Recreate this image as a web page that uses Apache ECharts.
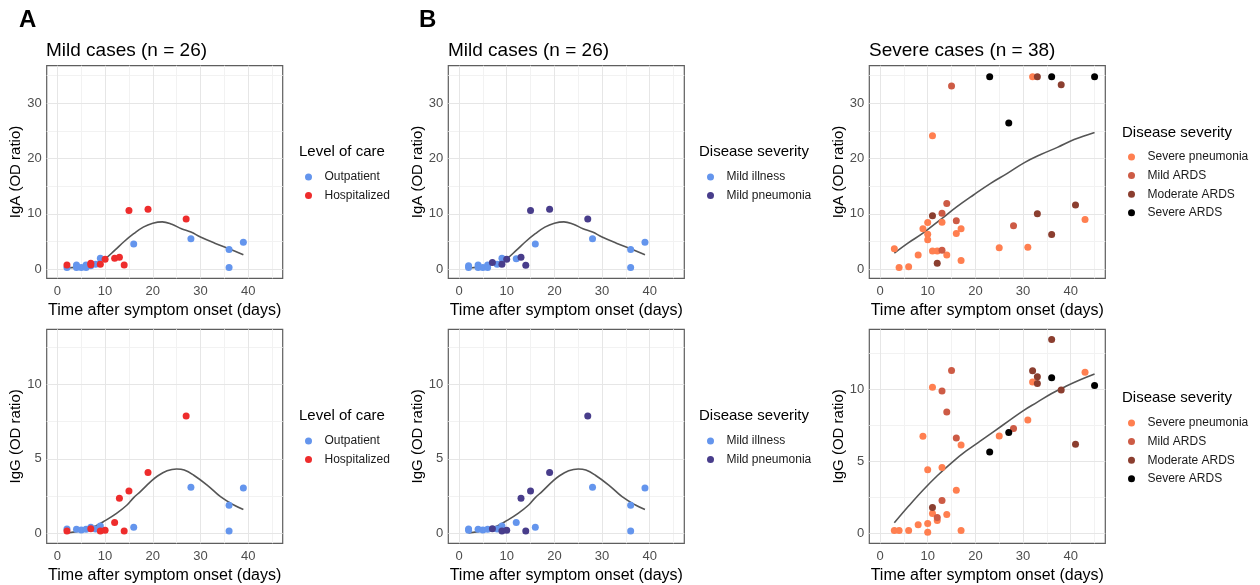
<!DOCTYPE html>
<html><head><meta charset="utf-8">
<script src="https://cdn.jsdelivr.net/npm/echarts@6/dist/echarts.min.js"></script>
<style>html,body{margin:0;padding:0;background:#fff}#c{width:1260px;height:585px}</style>
</head><body><div id="c"></div>
<script>
// ---------- tick values ----------
const X_TICKS = [0, 10, 20, 30, 40];
const X_MINOR = [5, 15, 25, 35, 45];
const IGA_TICKS = [0, 10, 20, 30];
const IGA_MINOR = [5, 15, 25, 35];
const IGG_TICKS = [0, 5, 10];
const IGG_MINOR = [2.5, 7.5, 12.5];

// ---------- Panel A (level of care), mild cases ----------
const A_IgA_Outpatient = [[2,0.29],[4,0.77],[4,0.29],[5,0.29],[6,0.77],[6,0.29],[7,0.6],[8,0.9],[9,1.98],[16,4.56],[28,5.5],[36,3.54],[36,0.3],[39,4.86]];
const A_IgA_Hospitalized = [[2,0.77],[7,1.08],[7,0.8],[9,0.9],[10,1.8],[12,1.98],[13,2.16],[14,0.77],[15,10.6],[19,10.8],[27,9.06]];
const A_IgG_Outpatient = [[2,0.29],[4,0.27],[5,0.22],[6,0.27],[7,0.4],[8,0.29],[9,0.49],[16,0.4],[28,3.1],[36,1.88],[36,0.16],[39,3.04]];
const A_IgG_Hospitalized = [[2,0.15],[7,0.31],[9,0.16],[10,0.2],[12,0.72],[13,2.35],[14,0.16],[15,2.84],[19,4.09],[27,7.87]];

// ---------- Panel B, mild cases ----------
const B_IgA_MildIllness = [[2,0.3],[2,0.6],[4,0.77],[4,0.29],[5,0.29],[6,0.77],[6,0.29],[8,0.9],[9,1.98],[12,1.9],[16,4.56],[28,5.5],[36,3.54],[36,0.3],[39,4.86]];
const B_IgA_MildPneumonia = [[7,1.2],[9,0.9],[10,1.8],[13,2.16],[14,0.72],[15,10.6],[19,10.8],[27,9.06]];
const B_IgG_MildIllness = [[2,0.29],[2,0.2],[4,0.27],[5,0.22],[6,0.27],[8,0.29],[9,0.49],[12,0.72],[16,0.4],[28,3.1],[36,1.88],[36,0.16],[39,3.04]];
const B_IgG_MildPneumonia = [[7,0.31],[9,0.16],[10,0.2],[13,2.35],[14,0.16],[15,2.84],[19,4.09],[27,7.87]];

// ---------- Panel B, severe cases ----------
const S_IgA_SeverePneumonia = [[3,3.7],[4,0.29],[6,0.42],[8,2.58],[9,7.28],[10,8.43],[10,6.32],[10,5.3],[11,24.1],[11,3.3],[12,3.3],[13,8.49],[14,2.58],[16,6.44],[17,7.28],[17,1.55],[25,3.85],[31,3.98],[32,34.76],[43,8.98]];
const S_IgA_MildARDS = [[13,10.1],[13,3.43],[14,11.86],[15,33.07],[16,8.73],[28,7.83]];
const S_IgA_ModerateARDS = [[11,9.63],[12,1.08],[33,34.76],[33,10.0],[36,6.27],[38,33.3],[41,11.57]];
const S_IgA_SevereARDS = [[23,34.76],[27,26.4],[36,34.76],[45,34.76]];
const S_IgG_SeverePneumonia = [[3,0.21],[4,0.21],[6,0.21],[8,0.6],[9,6.74],[10,4.42],[10,0.69],[10,0.09],[11,10.14],[11,1.39],[12,0.9],[13,4.58],[14,1.32],[16,3.0],[17,6.13],[17,0.21],[25,6.76],[31,7.87],[32,10.5],[43,11.18]];
const S_IgG_MildARDS = [[12,1.11],[13,2.29],[13,9.88],[14,8.42],[15,11.3],[16,6.62],[28,7.27]];
const S_IgG_ModerateARDS = [[11,1.8],[32,11.27],[33,10.86],[33,10.4],[36,13.45],[38,9.95],[41,6.18]];
const S_IgG_SevereARDS = [[23,5.65],[27,6.99],[36,10.79],[45,10.25]];

// ---------- smoothed fits ----------
const MILD_IgA_FIT = [[2,0.2],[5,0.5],[8,1.1],[10,1.9],[12,3.4],[14,5.0],[16,6.4],[18,7.6],[20,8.3],[22,8.55],[24,8.1],[26,7.3],[28,6.7],[30,5.8],[33,4.7],[36,3.7],[39,2.6]];
const MILD_IgG_FIT = [[2,0.02],[5,0.18],[8,0.5],[10,0.85],[12.4,1.34],[14.6,1.9],[16,2.4],[17.4,2.8],[19.5,3.45],[21,3.85],[23,4.2],[25,4.32],[26.6,4.25],[28.6,3.9],[31.4,3.24],[34.2,2.46],[37,1.9],[39,1.6]];
const SEVERE_IgA_FIT = [[3,2.9],[6,4.8],[9,6.5],[12.6,8.9],[16,11.2],[19.6,13.4],[23.2,15.5],[26.7,17.3],[30.2,19.2],[33.7,20.7],[37.2,22.0],[40.7,23.4],[45,24.7]];
const SEVERE_IgG_FIT = [[3,0.74],[6,1.9],[9,3.0],[12,4.0],[15,4.9],[18,5.7],[21,6.4],[24,7.1],[27,7.8],[30,8.5],[33,9.1],[36,9.7],[39,10.2],[42,10.65],[45,11.05]];

// ---------- styling ----------
const FONT = "'Liberation Sans', Arial, sans-serif";
const C = {
  Outpatient: '#6495ED', Hospitalized: '#EE2C2C',
  'Mild illness': '#6495ED', 'Mild pneumonia': '#483D8B',
  'Severe pneumonia': '#FF7F50', 'Mild ARDS': '#CD5B45', 'Moderate ARDS': '#8B3E2F', 'Severe ARDS': '#000000'
};
const COL_LEFT = [46.7, 448.3, 869.3];
const ROW = [{top: 65.7, height: 212.6}, {top: 329.3, height: 214}];
const PANEL_W = 236;

const panels = [
  {col:0,row:0,yName:'IgA (OD ratio)',yr:[-1.65,36.75],yt:IGA_TICKS,ym:IGA_MINOR,fit:MILD_IgA_FIT,
   groups:[['Outpatient',A_IgA_Outpatient],['Hospitalized',A_IgA_Hospitalized]]},
  {col:0,row:1,yName:'IgG (OD ratio)',yr:[-0.67,13.7],yt:IGG_TICKS,ym:IGG_MINOR,fit:MILD_IgG_FIT,
   groups:[['Outpatient',A_IgG_Outpatient],['Hospitalized',A_IgG_Hospitalized]]},
  {col:1,row:0,yName:'IgA (OD ratio)',yr:[-1.65,36.75],yt:IGA_TICKS,ym:IGA_MINOR,fit:MILD_IgA_FIT,
   groups:[['Mild illness',B_IgA_MildIllness],['Mild pneumonia',B_IgA_MildPneumonia]]},
  {col:1,row:1,yName:'IgG (OD ratio)',yr:[-0.67,13.7],yt:IGG_TICKS,ym:IGG_MINOR,fit:MILD_IgG_FIT,
   groups:[['Mild illness',B_IgG_MildIllness],['Mild pneumonia',B_IgG_MildPneumonia]]},
  {col:2,row:0,yName:'IgA (OD ratio)',yr:[-1.65,36.75],yt:IGA_TICKS,ym:IGA_MINOR,fit:SEVERE_IgA_FIT,
   groups:[['Severe pneumonia',S_IgA_SeverePneumonia],['Mild ARDS',S_IgA_MildARDS],['Moderate ARDS',S_IgA_ModerateARDS],['Severe ARDS',S_IgA_SevereARDS]]},
  {col:2,row:1,yName:'IgG (OD ratio)',yr:[-0.68,14.15],yt:IGG_TICKS,ym:IGG_MINOR,fit:SEVERE_IgG_FIT,
   groups:[['Severe pneumonia',S_IgG_SeverePneumonia],['Mild ARDS',S_IgG_MildARDS],['Moderate ARDS',S_IgG_ModerateARDS],['Severe ARDS',S_IgG_SevereARDS]]}
];

const grid = [], xAxis = [], yAxis = [], series = [];
panels.forEach((p, i) => {
  grid.push({left: COL_LEFT[p.col], top: ROW[p.row].top, width: PANEL_W, height: ROW[p.row].height,
    show: true, borderColor: '#5e5e5e', borderWidth: 1.2, backgroundColor: '#fff', containLabel: false});
  xAxis.push({type: 'value', gridIndex: i, min: -2.25, max: 47.25,
    name: 'Time after symptom onset (days)', nameLocation: 'middle', nameGap: 24,
    nameTextStyle: {fontFamily: FONT, fontSize: 16, color: '#000'},
    axisLine: {show: false}, splitLine: {show: false},
    axisTick: {show: true, length: 3, customValues: X_TICKS, lineStyle: {color: '#444'}},
    axisLabel: {customValues: X_TICKS, fontFamily: FONT, fontSize: 13, color: '#4d4d4d', margin: 7}});
  yAxis.push({type: 'value', gridIndex: i, min: p.yr[0], max: p.yr[1],
    name: p.yName, nameLocation: 'middle', nameGap: 21, nameRotate: 90,
    nameTextStyle: {fontFamily: FONT, fontSize: 15, color: '#000'},
    axisLine: {show: false}, splitLine: {show: false},
    axisTick: {show: true, length: 3, customValues: p.yt, lineStyle: {color: '#444'}},
    axisLabel: {customValues: p.yt, fontFamily: FONT, fontSize: 13, color: '#4d4d4d', margin: 5}});
  // grid lines (through axis scale)
  const minorStyle = {color: '#f2f2f2', width: 1, type: 'solid'};
  const majorStyle = {color: '#e6e6e6', width: 1, type: 'solid'};
  const ml = [];
  X_MINOR.forEach(v => ml.push({xAxis: v, lineStyle: minorStyle}));
  p.ym.forEach(v => ml.push({yAxis: v, lineStyle: minorStyle}));
  X_TICKS.forEach(v => ml.push({xAxis: v, lineStyle: majorStyle}));
  p.yt.forEach(v => ml.push({yAxis: v, lineStyle: majorStyle}));
  series.push({type: 'scatter', xAxisIndex: i, yAxisIndex: i, data: [], z: 1, silent: true,
    markLine: {z: 1, silent: true, symbol: ['none', 'none'], label: {show: false}, animation: false, data: ml}});
  series.push({type: 'line', xAxisIndex: i, yAxisIndex: i, data: p.fit, smooth: 0.4, showSymbol: false,
    symbol: 'none', lineStyle: {color: '#555555', width: 1.6}, z: 3, silent: true});
  p.groups.forEach(([name, data]) => {
    series.push({type: 'scatter', name: name, xAxisIndex: i, yAxisIndex: i, data: data,
      symbol: 'circle', symbolSize: 7, itemStyle: {color: C[name], opacity: 1}, z: 4});
  });
});

const title = [
  {text: 'A', left: 19, top: 8, textStyle: {fontFamily: FONT, fontSize: 24, fontWeight: 'bold', color: '#000'}},
  {text: 'B', left: 419, top: 8, textStyle: {fontFamily: FONT, fontSize: 24, fontWeight: 'bold', color: '#000'}},
  {text: 'Mild cases (n = 26)', left: 46, top: 41, textStyle: {fontFamily: FONT, fontSize: 19, fontWeight: 'normal', color: '#000'}},
  {text: 'Mild cases (n = 26)', left: 448, top: 41, textStyle: {fontFamily: FONT, fontSize: 19, fontWeight: 'normal', color: '#000'}},
  {text: 'Severe cases (n = 38)', left: 869, top: 41, textStyle: {fontFamily: FONT, fontSize: 19, fontWeight: 'normal', color: '#000'}},
  {text: 'Level of care', left: 299, top: 144, textStyle: {fontFamily: FONT, fontSize: 15, fontWeight: 'normal', color: '#000'}},
  {text: 'Level of care', left: 299, top: 408, textStyle: {fontFamily: FONT, fontSize: 15, fontWeight: 'normal', color: '#000'}},
  {text: 'Disease severity', left: 699, top: 144, textStyle: {fontFamily: FONT, fontSize: 15, fontWeight: 'normal', color: '#000'}},
  {text: 'Disease severity', left: 699, top: 408, textStyle: {fontFamily: FONT, fontSize: 15, fontWeight: 'normal', color: '#000'}},
  {text: 'Disease severity', left: 1122, top: 125, textStyle: {fontFamily: FONT, fontSize: 15, fontWeight: 'normal', color: '#000'}},
  {text: 'Disease severity', left: 1122, top: 390, textStyle: {fontFamily: FONT, fontSize: 15, fontWeight: 'normal', color: '#000'}}
];
title.forEach(t => { t.padding = 0; });

const legBase = {orient: 'vertical', icon: 'circle', itemWidth: 22, itemHeight: 7, itemGap: 0.6, padding: 0,
  selectedMode: false, textStyle: {fontFamily: FONT, fontSize: 12, lineHeight: 18, color: '#1a1a1a'}};
const legend = [
  Object.assign({}, legBase, {left: 305, top: 168, data: ['Outpatient', 'Hospitalized']}),
  Object.assign({}, legBase, {left: 305, top: 432, data: ['Outpatient', 'Hospitalized']}),
  Object.assign({}, legBase, {left: 707, top: 168, data: ['Mild illness', 'Mild pneumonia']}),
  Object.assign({}, legBase, {left: 707, top: 432, data: ['Mild illness', 'Mild pneumonia']}),
  Object.assign({}, legBase, {left: 1128, top: 148, data: ['Severe pneumonia', 'Mild ARDS', 'Moderate ARDS', 'Severe ARDS']}),
  Object.assign({}, legBase, {left: 1128, top: 414, data: ['Severe pneumonia', 'Mild ARDS', 'Moderate ARDS', 'Severe ARDS']})
];

const chart = echarts.init(document.getElementById('c'), null, {renderer: 'canvas'});
chart.setOption({animation: false, backgroundColor: '#fff', title, legend, grid, xAxis, yAxis, series});
</script>
</body></html>
